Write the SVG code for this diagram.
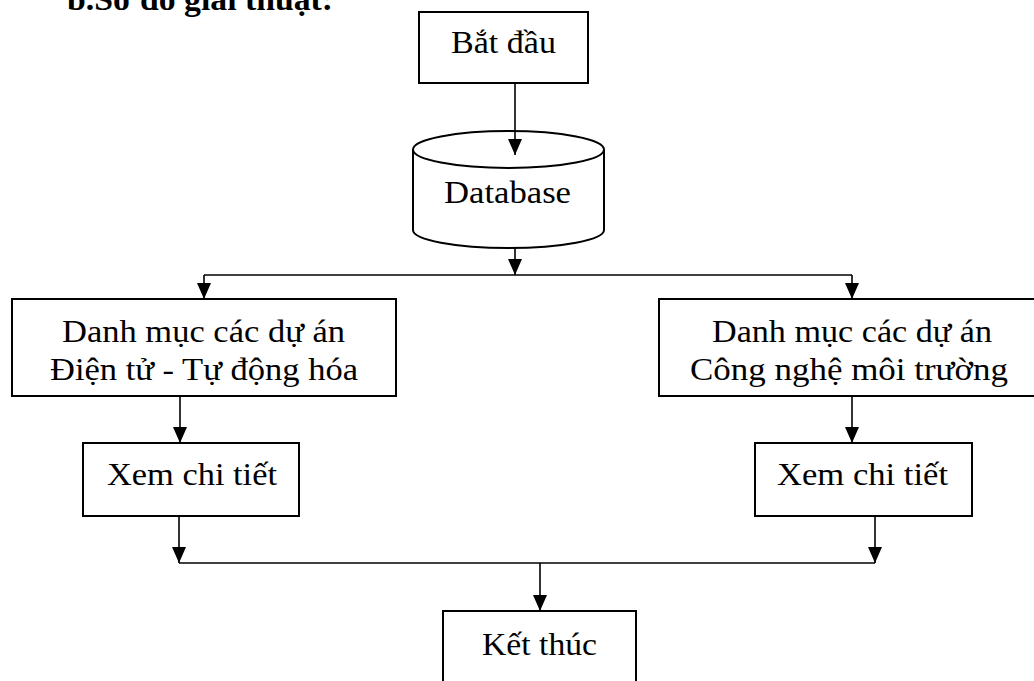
<svg xmlns="http://www.w3.org/2000/svg" width="1034" height="681" viewBox="0 0 1034 681">
<style>
.box{fill:#fff;stroke:#000;stroke-width:2}
.t{font-family:"Liberation Serif","Times New Roman",serif;font-size:32px;fill:#000;text-anchor:middle}
.title{font-family:"Liberation Serif","Times New Roman",serif;font-size:31px;font-weight:bold;fill:#000}
.ln{fill:none;stroke:#000;stroke-width:1.6}
</style>
<defs>
<marker id="arr" markerUnits="userSpaceOnUse" viewBox="0 0 16 14" refX="16" refY="7" markerWidth="16" markerHeight="14" orient="auto">
<path d="M0,0 L16,7 L0,14 z" fill="#000"/>
</marker>
</defs>
<rect width="1034" height="681" fill="#fff"/>
<text class="title" x="67" y="10" textLength="266" lengthAdjust="spacingAndGlyphs">b.Sơ đồ giải thuật:</text>
<g id="start">
<rect class="box" x="419" y="12" width="169" height="71"/>
<text class="t" x="503.5" y="53" textLength="105" lengthAdjust="spacingAndGlyphs">Bắt đầu</text>
</g>
<g id="database">
<path class="box" d="M413,149.5 V230 A95.5,18 0 0 0 604,230 V149.5"/>
<ellipse class="box" cx="508.5" cy="149.5" rx="95.5" ry="18.5" fill="none"/>
<text class="t" x="507.5" y="203" textLength="127" lengthAdjust="spacingAndGlyphs">Database</text>
</g>
<g id="list-left">
<rect class="box" x="12" y="299" width="384" height="97"/>
<text class="t" x="203.5" y="342" textLength="283" lengthAdjust="spacingAndGlyphs">Danh mục các dự án</text>
<text class="t" x="204" y="380" textLength="308" lengthAdjust="spacingAndGlyphs">Điện tử - Tự động hóa</text>
</g>
<g id="list-right">
<rect class="box" x="659" y="299" width="386" height="97"/>
<text class="t" x="852" y="342" textLength="280" lengthAdjust="spacingAndGlyphs">Danh mục các dự án</text>
<text class="t" x="849" y="380" textLength="318" lengthAdjust="spacingAndGlyphs">Công nghệ môi trường</text>
</g>
<g id="detail-left">
<rect class="box" x="83" y="443" width="216" height="73"/>
<text class="t" x="192" y="485" textLength="170" lengthAdjust="spacingAndGlyphs">Xem chi tiết</text>
</g>
<g id="detail-right">
<rect class="box" x="755" y="443" width="217" height="73"/>
<text class="t" x="862.5" y="485" textLength="171" lengthAdjust="spacingAndGlyphs">Xem chi tiết</text>
</g>
<g id="end">
<rect class="box" x="443" y="611" width="193" height="80"/>
<text class="t" x="539.5" y="655" textLength="115" lengthAdjust="spacingAndGlyphs">Kết thúc</text>
</g>
<g id="connectors">
<path class="ln" d="M515,83 V155" marker-end="url(#arr)"/>
<path class="ln" d="M515,248 V275" marker-end="url(#arr)"/>
<path class="ln" d="M204,275 H852"/>
<path class="ln" d="M204,275 V299" marker-end="url(#arr)"/>
<path class="ln" d="M852,275 V299" marker-end="url(#arr)"/>
<path class="ln" d="M180,396 V443" marker-end="url(#arr)"/>
<path class="ln" d="M852,396 V443" marker-end="url(#arr)"/>
<path class="ln" d="M179,516 V563" marker-end="url(#arr)"/>
<path class="ln" d="M875,516 V563" marker-end="url(#arr)"/>
<path class="ln" d="M179,563 H875"/>
<path class="ln" d="M540,563 V611" marker-end="url(#arr)"/>
</g>
</svg>
